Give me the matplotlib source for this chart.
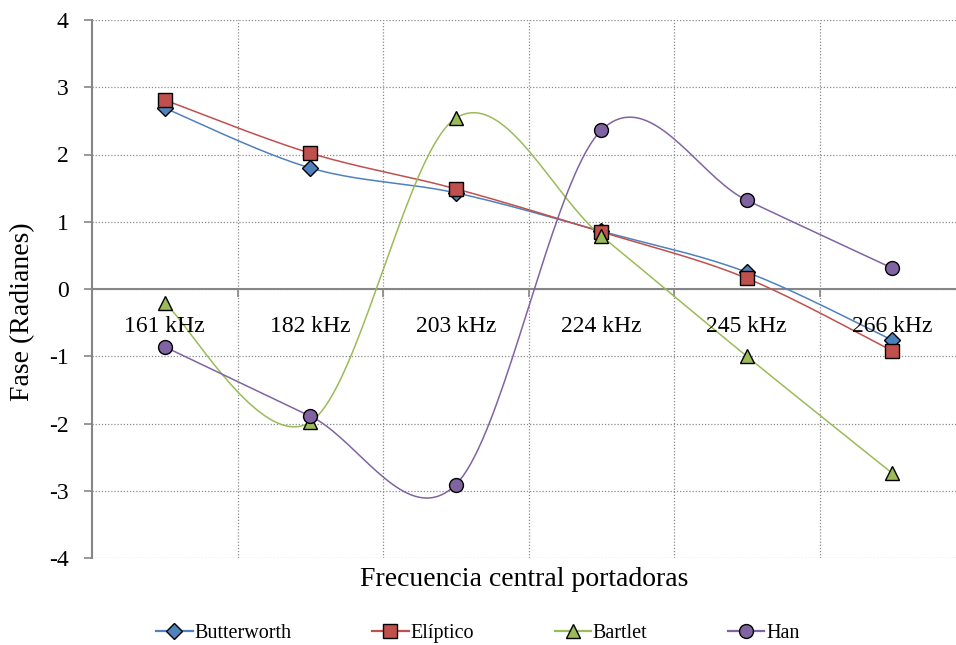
import numpy as np
import matplotlib
matplotlib.use("Agg")
import matplotlib.pyplot as plt
from matplotlib.lines import Line2D

plt.rcParams['font.family'] = ['Liberation Serif', 'DejaVu Serif']
plt.rcParams['axes.unicode_minus'] = False

# datos
frecuencias = ['161 kHz', '182 kHz', '203 kHz', '224 kHz', '245 kHz', '266 kHz']
butterworth = [2.69, 1.80, 1.43, 0.86, 0.25, -0.76]
eliptico = [2.81, 2.02, 1.49, 0.85, 0.16, -0.92]
bartlet = [-0.21, -1.98, 2.54, 0.79, -1.00, -2.74]
han = [-0.86, -1.89, -2.91, 2.36, 1.32, 0.31]

series = [
    ('Butterworth', butterworth, '#4F81BD', 'D', 8),
    ('Elíptico', eliptico, '#C0504D', 's', 10),
    ('Bartlet', bartlet, '#9BBB59', '^', 10),
    ('Han', han, '#8064A2', 'o', 10),
]


def suavizar(x, y, n=40):
    "curva tipo Excel (Bezier Catmull-Rom)"
    x = np.asarray(x, float)
    y = np.asarray(y, float)
    P = np.column_stack([x, y])
    Pext = np.vstack([P[0], P, P[-1]])
    out = []
    t = np.linspace(0, 1, n)[:, None]
    for i in range(len(P) - 1):
        p0, p1, p2, p3 = Pext[i], Pext[i + 1], Pext[i + 2], Pext[i + 3]
        c1 = p1 + (p2 - p0) / 6.0
        c2 = p2 - (p3 - p1) / 6.0
        b = ((1 - t) ** 3) * p1 + 3 * ((1 - t) ** 2) * t * c1 + 3 * (1 - t) * t ** 2 * c2 + t ** 3 * p2
        out.append(b if i == 0 else b[1:])
    c = np.vstack(out)
    return c[:, 0], c[:, 1]


fig = plt.figure(figsize=(9.56, 6.45), dpi=100)
ax = fig.add_axes([92 / 956, 1 - 558 / 645, 873 / 956, 538 / 645])

x = np.arange(len(frecuencias))
handles = []
for nombre, vals, col, mk, ms in series:
    xs, ys = suavizar(x, vals)
    ax.plot(xs, ys, color=col, linewidth=1.1, zorder=3)
    ax.plot(x, vals, linestyle='none', marker=mk, markersize=ms,
            markerfacecolor=col, markeredgecolor='black', markeredgewidth=1.0, zorder=4)
    handles.append(Line2D([0], [0], color=col, linewidth=1.6, marker=mk, markersize=ms,
                          markerfacecolor=col, markeredgecolor='black', markeredgewidth=1.0))

ax.set_xlim(-0.5, len(frecuencias) - 0.5)
ax.set_ylim(-4, 4)
ax.set_yticks(np.arange(-4, 5, 1))
ax.set_xticks(np.arange(0.5, len(frecuencias) - 0.5, 1))
ax.set_xticklabels([])

gris = '#868686'
ax.grid(True, color='#8a8a8a', linestyle=(0, (1, 1.5)), linewidth=0.9, zorder=0)
ax.set_axisbelow(True)
for s in ['top', 'right']:
    ax.spines[s].set_visible(False)
ax.spines['left'].set_color(gris)
ax.spines['left'].set_linewidth(1.5)
ax.spines['bottom'].set_position(('data', 0))
ax.spines['bottom'].set_color(gris)
ax.spines['bottom'].set_linewidth(1.5)
ax.tick_params(axis='y', direction='out', length=6, width=1.2, color=gris, labelsize=17, pad=11)
ax.tick_params(axis='x', direction='out', length=6, width=1.2, color=gris)

for i, lab in enumerate(frecuencias):
    ax.text(i, -0.56, lab, ha='center', va='center', fontsize=17)

fig.text(23 / 956, 1 - 312 / 645, 'Fase (Radianes)', rotation=90,
         ha='center', va='center', fontsize=20)
fig.text(0.5 * (92 + 956) / 956, 1 - 580 / 645, 'Frecuencia central portadoras',
         ha='center', va='center', fontsize=20)

fig.legend(handles, [s[0] for s in series], loc='center', bbox_to_anchor=(0.5, 1 - 633 / 645),
           ncol=4, frameon=False, fontsize=14.5, handlelength=1.8, handletextpad=0.1,
           columnspacing=4.0)

fig.savefig('out.png', dpi=100)
